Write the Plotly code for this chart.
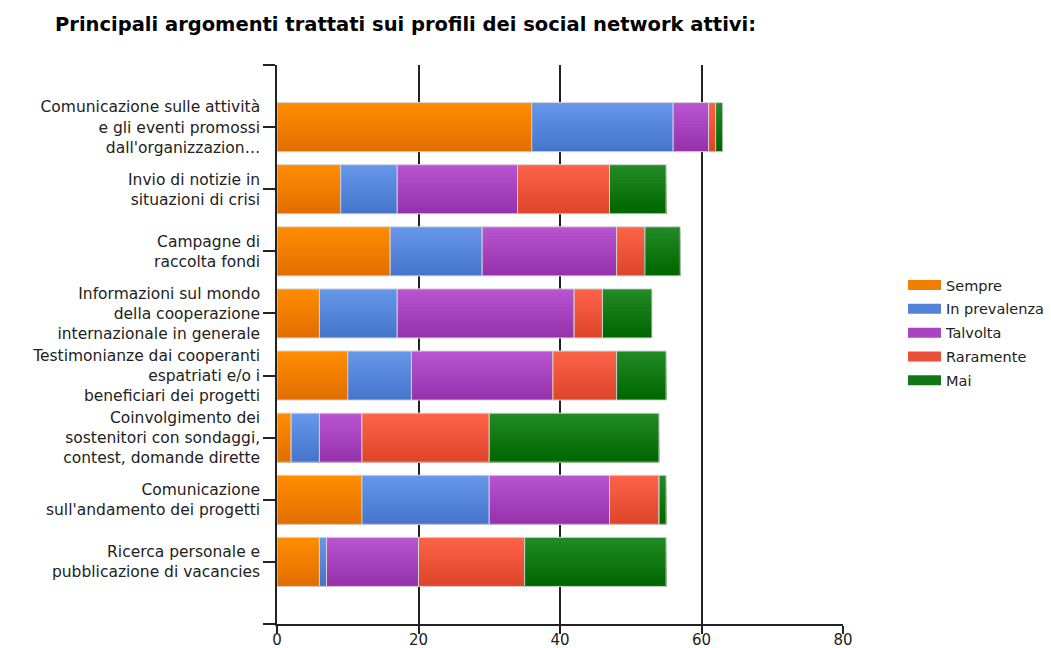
import plotly.graph_objects as go

# Topics (y categories), top to bottom
categories = [
    "Comunicazione sulle attività<br>e gli eventi promossi<br>dall'organizzazion…",
    "Invio di notizie in<br>situazioni di crisi",
    "Campagne di<br>raccolta fondi",
    "Informazioni sul mondo<br>della cooperazione<br>internazionale in generale",
    "Testimonianze dai cooperanti<br>espatriati e/o i<br>beneficiari dei progetti",
    "Coinvolgimento dei<br>sostenitori con sondaggi,<br>contest, domande dirette",
    "Comunicazione<br>sull'andamento dei progetti",
    "Ricerca personale e<br>pubblicazione di vacancies",
]

# Frequency answers (stacked series)
sempre = [36, 9, 16, 6, 10, 2, 12, 6]
in_prevalenza = [20, 8, 13, 11, 9, 4, 18, 1]
talvolta = [5, 17, 19, 25, 20, 6, 17, 13]
raramente = [1, 13, 4, 4, 9, 18, 7, 15]
mai = [1, 8, 5, 7, 7, 24, 1, 20]

x_ticks = [0, 20, 40, 60, 80]

# name, values, top colour, bottom colour, legend colour
series = [
    ("Sempre", sempre, (255, 140, 0), (226, 110, 0), "#f07f00"),
    ("In prevalenza", in_prevalenza, (102, 150, 234), (70, 118, 204), "#5283d8"),
    ("Talvolta", talvolta, (184, 84, 208), (150, 50, 172), "#aa44c0"),
    ("Raramente", raramente, (252, 98, 72), (222, 70, 42), "#ea5038"),
    ("Mai", mai, (34, 138, 36), (0, 102, 0), "#127718"),
]

positions = list(range(len(categories)))
BAR_W = 0.79     # bar thickness in category units
N_STRIPS = 16    # layers used for the vertical shading


def mix(c1, c2, t):
    return "rgb({},{},{})".format(*[round(a + (b - a) * t) for a, b in zip(c1, c2)])


fig = go.Figure()
base = [0] * len(categories)
for name, values, top, bottom, legend_color in series:
    # shaded fill: each layer starts lower and runs to the bar's bottom edge,
    # so later (darker) layers cover the lower part of earlier ones
    for i in range(N_STRIPS):
        t = i / (N_STRIPS - 1)
        start = i * BAR_W / N_STRIPS
        fig.add_trace(go.Bar(
            x=values, y=positions, base=base, orientation="h",
            width=BAR_W - start,
            offset=-BAR_W / 2 + start,
            marker=dict(color=mix(top, bottom, t), line=dict(width=0)),
            showlegend=False, hoverinfo="skip",
        ))
    # outline of each segment
    fig.add_trace(go.Bar(
        x=values, y=positions, base=base, orientation="h", name=name,
        width=BAR_W, offset=-BAR_W / 2,
        marker=dict(color="rgba(0,0,0,0)", line=dict(color="#d4d4d4", width=1)),
        showlegend=False,
    ))
    # legend entry drawn as a wide swatch
    fig.add_trace(go.Scatter(
        x=[None], y=[None], mode="lines", name=name, legendgroup=name,
        line=dict(color=legend_color, width=10),
    ))
    base = [b + v for b, v in zip(base, values)]

fig.update_layout(
    width=1051, height=648,
    barmode="overlay",
    paper_bgcolor="white", plot_bgcolor="white",
    margin=dict(l=277, r=208, t=65, b=24),
    font=dict(family="DejaVu Sans, Arial, sans-serif", size=15.5, color="#222222"),
    title=dict(
        text="<b>Principali argomenti trattati sui profili dei social network attivi:</b>",
        x=55 / 1051, xanchor="left", y=1 - 24 / 648, yanchor="middle",
        font=dict(size=19.5, color="#000000"),
    ),
    legend=dict(
        xref="container", yref="container",
        x=903 / 1051, xanchor="left", y=1 - 333 / 648, yanchor="middle",
        font=dict(size=14.5, color="#222222"),
        tracegroupgap=2, itemwidth=33,
    ),
)

fig.update_xaxes(
    range=[0, 80], tickvals=x_ticks, automargin=False,
    showgrid=True, gridcolor="#222222", gridwidth=1.5,
    zeroline=False, showline=True, linecolor="#222222", linewidth=1.5,
    ticks="outside", ticklen=8, tickcolor="#222222", tickwidth=1.5,
    ticklabelstandoff=-7,
    tickfont=dict(size=15, color="#222222"),
)
fig.update_yaxes(
    range=[len(categories), -1], automargin=False,
    tickvals=[-1] + positions + [len(categories)],
    ticktext=[""] + categories + [""],
    showgrid=False, zeroline=False,
    showline=True, linecolor="#222222", linewidth=1.5,
    ticks="outside", ticklen=12, tickcolor="#222222", tickwidth=1.5,
    tickfont=dict(size=15.5, color="#222222"),
)

fig.write_html("out.html")
